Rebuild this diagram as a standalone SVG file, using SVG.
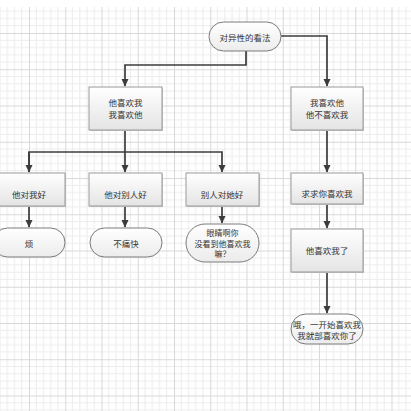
<svg xmlns="http://www.w3.org/2000/svg" width="411" height="411" viewBox="0 0 411 411">
<style>
.t{font-family:"Noto Sans CJK SC","Noto Sans CJK TC",sans-serif;font-size:8.5px;fill:#333;text-anchor:middle;dominant-baseline:central}
.s{font-size:8px}
.box{fill:url(#gb);stroke:#9a9a9a;stroke-width:1}
.term{fill:url(#gt);stroke:#7a7a7a;stroke-width:1}
.sh{fill:#c8c8c8}
.c{fill:none;stroke:#3c3c3c;stroke-width:1.7}
</style>
<defs>
<linearGradient id="gb" x1="0" y1="0" x2="0" y2="1">
<stop offset="0" stop-color="#ffffff"/><stop offset="1" stop-color="#e4e4e4"/>
</linearGradient>
<linearGradient id="gt" x1="0" y1="0" x2="0" y2="1">
<stop offset="0" stop-color="#ffffff"/><stop offset="1" stop-color="#ececec"/>
</linearGradient>
<pattern id="grid" patternUnits="userSpaceOnUse" x="29" y="33" width="36.25" height="36.25">
<g stroke="#ececec" stroke-width="1">
<line x1="7.25" y1="0" x2="7.25" y2="36.25"/><line x1="14.5" y1="0" x2="14.5" y2="36.25"/><line x1="21.75" y1="0" x2="21.75" y2="36.25"/><line x1="29" y1="0" x2="29" y2="36.25"/>
<line x1="0" y1="7.25" x2="36.25" y2="7.25"/><line x1="0" y1="14.5" x2="36.25" y2="14.5"/><line x1="0" y1="21.75" x2="36.25" y2="21.75"/><line x1="0" y1="29" x2="36.25" y2="29"/>
</g>
<g stroke="#d8d8d8" stroke-width="1"><line x1="0.5" y1="0" x2="0.5" y2="36.25"/><line x1="0" y1="0.5" x2="36.25" y2="0.5"/></g>
</pattern>
<marker id="ah" markerWidth="8" markerHeight="8" refX="7" refY="4" orient="auto" markerUnits="userSpaceOnUse">
<path d="M0,0.5 L7.5,4 L0,7.5 Z" fill="#3c3c3c"/>
</marker>
</defs>
<rect x="0" y="0" width="411" height="411" fill="#fff"/>
<rect x="0" y="7" width="411" height="404" fill="url(#grid)"/>

<g id="connectors">
<path class="c" d="M246,51 V65 H125 V86" marker-end="url(#ah)"/>
<path class="c" d="M281,36 H327 V86" marker-end="url(#ah)"/>
<path class="c" d="M125,130 V172" marker-end="url(#ah)"/>
<path class="c" d="M29,172 V152 H222 V172" marker-end="url(#ah)"/>
<path class="c" d="M29,152 V172" marker-end="url(#ah)"/>
<path class="c" d="M29,206 V227" marker-end="url(#ah)"/>
<path class="c" d="M125,206 V227" marker-end="url(#ah)"/>
<path class="c" d="M222,206 V223" marker-end="url(#ah)"/>
<path class="c" d="M327,130 V172" marker-end="url(#ah)"/>
<path class="c" d="M327,204 V228" marker-end="url(#ah)"/>
<path class="c" d="M327,272 V313" marker-end="url(#ah)"/>
</g>

<g id="n_root">
<rect class="term" x="209" y="22" width="72" height="29" rx="14.5"/>
<text class="t" x="245" y="37">对异性的看法</text>
</g>
<g id="n_mutual">
<rect class="sh" x="90" y="88" width="73" height="43"/>
<rect class="box" x="89" y="87" width="73" height="43"/>
<text class="t" x="125.5" y="102">他喜欢我</text>
<text class="t" x="125.5" y="114">我喜欢他</text>
</g>
<g id="n_oneway">
<rect class="sh" x="292" y="88" width="72" height="43"/>
<rect class="box" x="291" y="87" width="72" height="43"/>
<text class="t" x="327" y="102">我喜欢他</text>
<text class="t" x="327" y="114">他不喜欢我</text>
</g>
<g id="n_goodme">
<rect class="sh" x="-6" y="174" width="72" height="33"/>
<rect class="box" x="-7" y="173" width="72" height="33"/>
<text class="t" x="29" y="194">他对我好</text>
</g>
<g id="n_goodothers">
<rect class="sh" x="90" y="174" width="73" height="33"/>
<rect class="box" x="89" y="173" width="73" height="33"/>
<text class="t" x="125.5" y="194">他对别人好</text>
</g>
<g id="n_othersgoodher">
<rect class="sh" x="187" y="174" width="73" height="33"/>
<rect class="box" x="186" y="173" width="73" height="33"/>
<text class="t" x="222" y="194">别人对她好</text>
</g>
<g id="n_fan">
<rect class="term" x="-7" y="228" width="72" height="29" rx="14.5"/>
<text class="t" x="29" y="243">烦</text>
</g>
<g id="n_bu">
<rect class="term" x="90" y="228" width="72" height="29" rx="14.5"/>
<text class="t" x="126" y="243">不痛快</text>
</g>
<g id="n_eyes">
<rect class="term" x="186" y="224" width="73" height="38" rx="19"/>
<text class="t s" x="222.5" y="232.5">眼睛啊你</text>
<text class="t s" x="222.5" y="243">没看到他喜欢我</text>
<text class="t s" x="222.5" y="253.5">嘛？</text>
</g>
<g id="n_beg">
<rect class="sh" x="292" y="174" width="72" height="31"/>
<rect class="box" x="291" y="173" width="72" height="31"/>
<text class="t" x="327" y="193">求求你喜欢我</text>
</g>
<g id="n_likes">
<rect class="sh" x="292" y="230" width="72" height="43"/>
<rect class="box" x="291" y="229" width="72" height="43"/>
<text class="t" x="327" y="250">他喜欢我了</text>
</g>
<g id="n_end">
<rect class="term" x="291" y="314" width="72" height="30" rx="15"/>
<text class="t" x="327" y="324">哦，一开始喜欢我</text>
<text class="t" x="327" y="335">我就部喜欢你了</text>
</g>
</svg>
